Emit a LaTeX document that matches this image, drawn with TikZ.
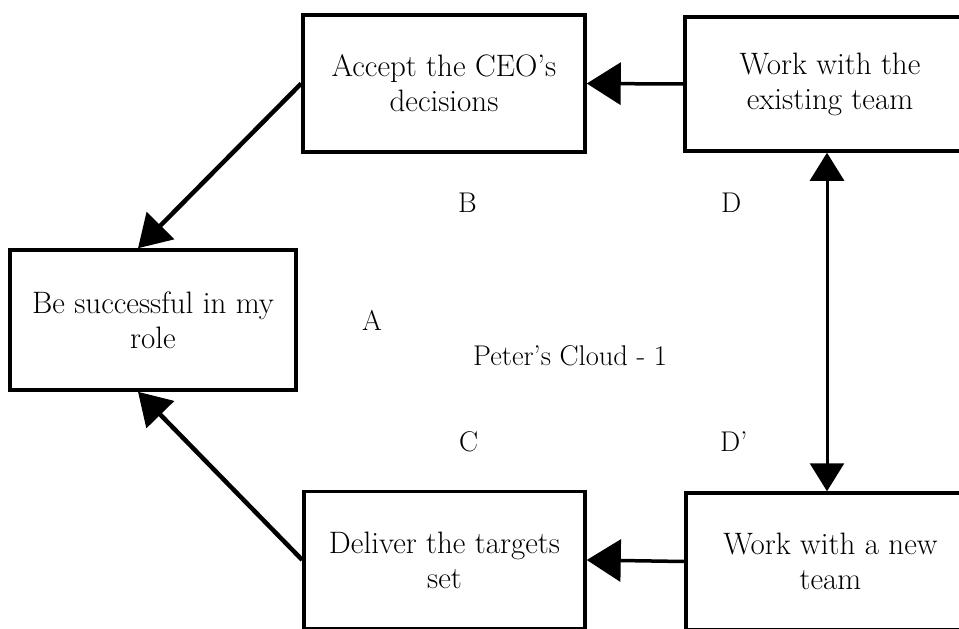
\documentclass[tikz,border=0pt]{standalone}
\usetikzlibrary{arrows.meta}
\begin{document}
\begin{tikzpicture}[x=1pt,y=-1pt,
  box/.style={draw, line width=3.5pt, inner sep=0pt, align=center,
              font=\fontsize{31}{35}\selectfont},
  tag/.style={font=\fontsize{28.5}{32}\selectfont, inner sep=0pt, anchor=base west},
  link/.style={line width=3.5pt, -{Triangle[length=34pt,width=42pt]}},
  slant/.style={line width=4.5pt, -{Triangle[length=32pt,width=38pt]}},
  conflict/.style={line width=3pt,
     {Triangle[length=28pt,width=34pt]}-{Triangle[length=28pt,width=34pt]}}
]
\clip (0,0) rectangle (959,629);

% the five entities of the cloud
\node[box, minimum width=286pt, minimum height=140pt] (A)  at (153,320)   {Be successful in my\\role};
\node[box, minimum width=282pt, minimum height=137pt] (B)  at (444,83.5)  {Accept the CEO's\\decisions};
\node[box, minimum width=281pt, minimum height=137pt] (C)  at (444.5,560) {Deliver the targets\\set};
\node[box, minimum width=290pt, minimum height=134pt] (D)  at (830,84)    {Work with the\\existing team};
\node[box, minimum width=289pt, minimum height=137pt] (Dp) at (830.5,561.5) {Work with a new\\team};

% letters and title
\node[tag] (lb)  at (458,212) {B};
\node[tag] (ld)  at (721,212) {D};
\node[tag] (la)  at (362,330) {A};
\node[tag] (lt)  at (473,365) {Peter's Cloud - 1};
\node[tag] (lc)  at (459,451) {C};
\node[tag] (ldp) at (720,451) {D'};

% connectors
\draw[link] (D.west) -- (B.east);
\draw[link] (Dp.west) -- (C.east);
\draw[conflict] ([xshift=-3pt]D.south) -- ([xshift=-3pt]D.south |- Dp.north);
\draw[slant] (B.west) -- ([xshift=-15pt]A.north);
\draw[slant] (C.west) -- ([xshift=-15pt]A.south);
\end{tikzpicture}
\end{document}
